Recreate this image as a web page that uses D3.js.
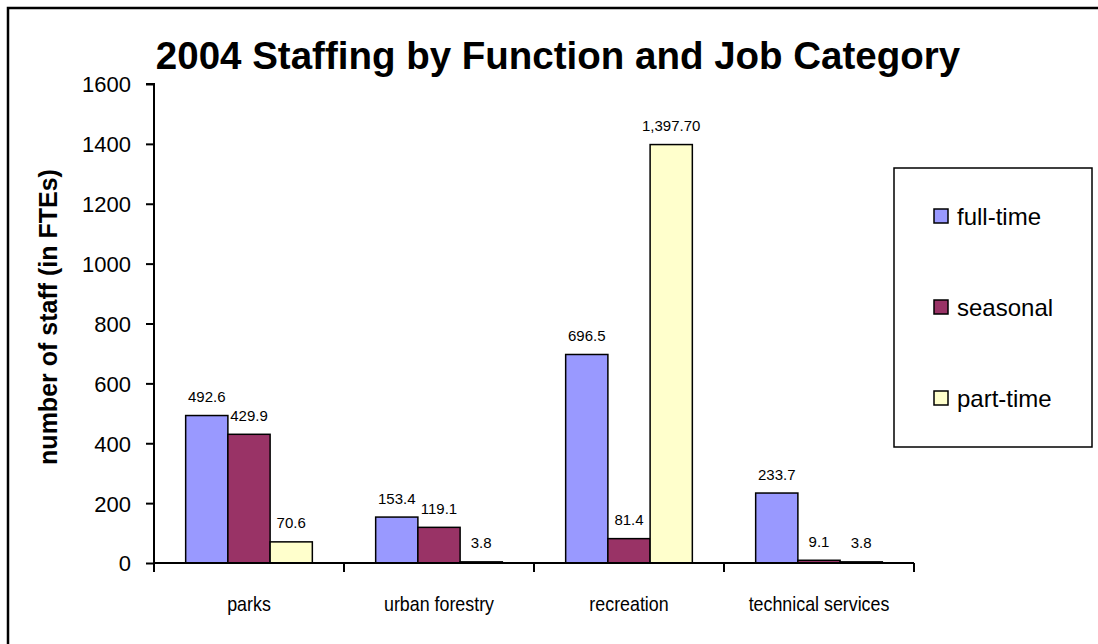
<!DOCTYPE html>
<html>
<head>
<meta charset="utf-8">
<script src="https://cdn.jsdelivr.net/npm/d3@7"></script>
<style>
  html, body { margin: 0; padding: 0; background: #fff; }
  svg { display: block; font-family: Arial, "Liberation Sans", sans-serif; }
</style>
</head>
<body>
<svg id="chart" width="1098" height="644"></svg>
<script>
// Staffing data (FTEs) per function and job category
const categories = ["parks", "urban forestry", "recreation", "technical services"];
const seriesNames = ["full-time", "seasonal", "part-time"];
const fullTime = [492.6, 153.4, 696.5, 233.7];
const seasonal = [429.9, 119.1, 81.4, 9.1];
const partTime = [70.6, 3.8, 1397.7, 3.8];
const valueLabels = [
  ["492.6", "153.4", "696.5", "233.7"],
  ["429.9", "119.1", "81.4", "9.1"],
  ["70.6", "3.8", "1,397.70", "3.8"]
];
const yTicks = [0, 200, 400, 600, 800, 1000, 1200, 1400, 1600];
const colors = ["#9999FF", "#993366", "#FFFFCC"];

const seriesValues = [fullTime, seasonal, partTime];

const svg = d3.select("#chart");

// outer chart frame (runs off the right and bottom edges)
svg.append("rect")
  .attr("x", 8).attr("y", 8)
  .attr("width", 1200).attr("height", 800)
  .attr("fill", "none").attr("stroke", "#000").attr("stroke-width", 2.5);

const plot = { left: 154, right: 914, top: 84, bottom: 563 };

const x0 = d3.scaleBand().domain(categories).range([plot.left, plot.right]).paddingInner(0).paddingOuter(0);
// three bars fill 3 / 4.5 of each band (gap of 1.5 bar widths)
const x1 = d3.scaleBand().domain(seriesNames).range([0, x0.bandwidth()]).paddingInner(0).paddingOuter(0.75);
const y = d3.scaleLinear().domain([0, 1600]).range([plot.bottom, plot.top]);

// title
svg.append("text")
  .attr("x", 558).attr("y", 69)
  .attr("text-anchor", "middle")
  .attr("font-size", 38.5).attr("font-weight", "bold")
  .text("2004 Staffing by Function and Job Category");

// y axis
const yAxis = d3.axisLeft(y).tickValues(yTicks).tickSize(8).tickPadding(15).tickFormat(d3.format("d"));
const gy = svg.append("g").attr("transform", `translate(${plot.left},0)`).call(yAxis);
gy.select(".domain").attr("stroke", "#000").attr("stroke-width", 2).attr("d", `M-8,${y(1600)}H0V${y(0)}`);
gy.selectAll(".tick line").attr("stroke", "#000").attr("stroke-width", 2);
gy.selectAll(".tick text").attr("font-size", 22).attr("fill", "#000").attr("dy", "0.36em")
  .style("font-family", "Arial, 'Liberation Sans', sans-serif");

// y axis title
svg.append("text")
  .attr("transform", "translate(57,317) rotate(-90)")
  .attr("text-anchor", "middle")
  .attr("font-size", 25).attr("font-weight", "bold")
  .text("number of staff (in FTEs)");

// bars
categories.forEach((cat, ci) => {
  seriesNames.forEach((s, si) => {
    const v = seriesValues[si][ci];
    const bx = x0(cat) + x1(s);
    svg.append("rect")
      .attr("x", bx).attr("y", y(v))
      .attr("width", x1.bandwidth()).attr("height", y(0) - y(v))
      .attr("fill", colors[si]).attr("stroke", "#000").attr("stroke-width", 1.5);
    svg.append("text")
      .attr("x", bx + x1.bandwidth() / 2).attr("y", y(v) - 13.5)
      .attr("text-anchor", "middle").attr("font-size", 15).attr("fill", "#000")
      .text(valueLabels[si][ci]);
  });
});

// x axis with category dividers
const xAxis = d3.axisBottom(x0).tickSize(0).tickPadding(0);
const gx = svg.append("g").attr("transform", `translate(0,${plot.bottom})`).call(xAxis);
gx.select(".domain").attr("stroke", "#000").attr("stroke-width", 2).attr("d", `M${plot.left},0H${plot.right}`);
gx.selectAll(".tick text").remove();
const dividers = categories.map(c => x0(c)).concat([plot.right]);
gx.selectAll("line.div").data(dividers).enter().append("line")
  .attr("class", "div")
  .attr("x1", d => d).attr("x2", d => d).attr("y1", 0).attr("y2", 9)
  .attr("stroke", "#000").attr("stroke-width", 2);

// category labels (narrow face)
categories.forEach(cat => {
  const cx = x0(cat) + x0.bandwidth() / 2;
  svg.append("text")
    .attr("transform", `translate(${cx},611) scale(0.85,1)`)
    .attr("text-anchor", "middle").attr("font-size", 21).attr("fill", "#000")
    .text(cat);
});

// legend
const lg = svg.append("g");
lg.append("rect")
  .attr("x", 894).attr("y", 168).attr("width", 198).attr("height", 279)
  .attr("fill", "#fff").attr("stroke", "#000").attr("stroke-width", 1.5);
seriesNames.forEach((s, i) => {
  const cy = 216 + i * 91;
  lg.append("rect")
    .attr("x", 934).attr("y", cy - 7).attr("width", 14).attr("height", 14)
    .attr("fill", colors[i]).attr("stroke", "#000").attr("stroke-width", 1.5);
  lg.append("text")
    .attr("x", 957).attr("y", cy + 8.5)
    .attr("font-size", 24).attr("fill", "#000")
    .text(s);
});
</script>
</body>
</html>
